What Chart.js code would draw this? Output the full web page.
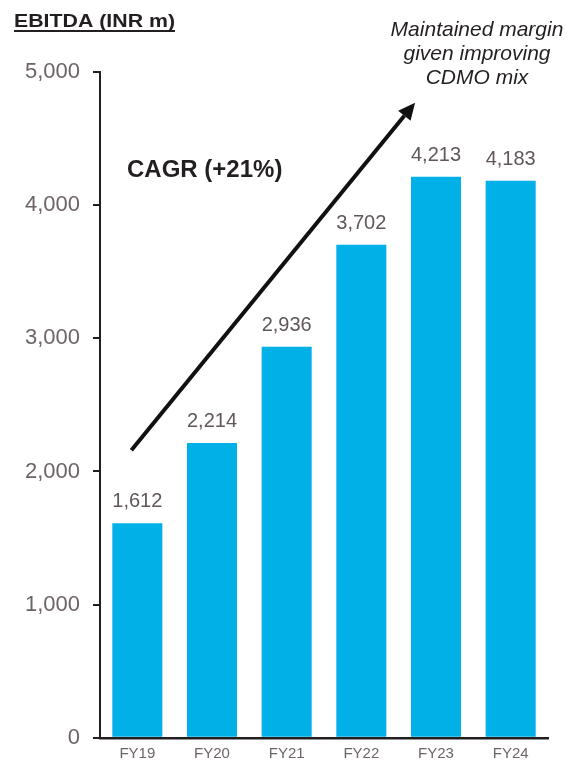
<!DOCTYPE html>
<html>
<head>
<meta charset="utf-8">
<script src="https://cdn.jsdelivr.net/npm/chart.js@4/dist/chart.umd.min.js"></script>
<style>
  body { margin: 0; background: #fff; }
  #wrap { width: 570px; height: 764px; }
</style>
</head>
<body>
<div id="wrap"><canvas id="barChart" width="570" height="764"></canvas></div>
<script>
// data
const years = ['FY19', 'FY20', 'FY21', 'FY22', 'FY23', 'FY24'];
const ebitda = [1612, 2214, 2936, 3702, 4213, 4183];
const yTicks = [0, 1000, 2000, 3000, 4000, 5000];
// arrow runs from [category index, value] to [category index, value]
const arrowFrom = [-0.08, 2160];
const arrowTo = [3.72, 4770];

const fmt = v => v.toLocaleString('en-US');
const FONT = '"Liberation Sans", Arial, sans-serif';

const extras = {
    id: 'extras',
    afterDatasetsDraw(chart) {
        const ctx = chart.ctx;
        const xs = chart.scales.x, ys = chart.scales.y;

        // value labels over bars
        ctx.save();
        ctx.font = '20px ' + FONT;
        ctx.fillStyle = '#5f5758';
        ctx.textAlign = 'center';
        ctx.textBaseline = 'alphabetic';
        chart.getDatasetMeta(0).data.forEach((bar, i) => {
            ctx.fillText(fmt(ebitda[i]), bar.x, bar.y - 16);
        });
        ctx.restore();

        // growth arrow
        const x1 = xs.getPixelForValue(arrowFrom[0]), y1 = ys.getPixelForValue(arrowFrom[1]);
        const x2 = xs.getPixelForValue(arrowTo[0]), y2 = ys.getPixelForValue(arrowTo[1]);
        const ang = Math.atan2(y2 - y1, x2 - x1);
        const head = 17, half = 8;
        const bx = x2 - head * Math.cos(ang), by = y2 - head * Math.sin(ang);
        ctx.save();
        ctx.strokeStyle = '#111';
        ctx.fillStyle = '#111';
        ctx.lineWidth = 4;
        ctx.beginPath();
        ctx.moveTo(x1, y1);
        ctx.lineTo(bx, by);
        ctx.stroke();
        ctx.beginPath();
        ctx.moveTo(x2, y2);
        ctx.lineTo(bx + half * Math.sin(ang), by - half * Math.cos(ang));
        ctx.lineTo(bx - half * Math.sin(ang), by + half * Math.cos(ang));
        ctx.closePath();
        ctx.fill();
        ctx.restore();

        // texts
        ctx.save();
        ctx.fillStyle = '#231f20';
        ctx.textBaseline = 'alphabetic';
        ctx.textAlign = 'left';
        // title is drawn a bit wider than tall, like the source
        const title = 'EBITDA (INR m)';
        ctx.font = 'bold 18px ' + FONT;
        const sx = 161 / ctx.measureText(title).width;
        ctx.save();
        ctx.translate(14, 27);
        ctx.scale(sx, 1);
        ctx.fillText(title, 0, 0);
        ctx.restore();
        ctx.fillRect(14, 30, 161, 2);

        ctx.font = 'bold 24px ' + FONT;
        ctx.fillText('CAGR (+21%)', 127, 177);

        ctx.font = 'italic 21px ' + FONT;
        ctx.textAlign = 'center';
        ['Maintained margin', 'given improving', 'CDMO mix'].forEach((t, i) => {
            ctx.fillText(t, 477, 36 + i * 24);
        });
        ctx.restore();
    }
};

new Chart(document.getElementById('barChart').getContext('2d'), {
    type: 'bar',
    data: {
        labels: years,
        datasets: [{
            label: 'EBITDA',
            data: ebitda,
            backgroundColor: '#00b0e6',
            categoryPercentage: 1,
            barPercentage: 0.67
        }]
    },
    options: {
        responsive: false,
        animation: false,
        layout: { padding: { top: 72, right: 22, bottom: 0, left: 0 } },
        plugins: { legend: { display: false }, tooltip: { enabled: false } },
        scales: {
            x: {
                afterFit: s => { s.height = 26; },
                grid: { drawOnChartArea: false, drawTicks: false },
                border: { color: '#231f20', width: 2.5 },
                ticks: { color: '#6d6466', font: { size: 15, family: FONT }, padding: 7 }
            },
            y: {
                min: 0,
                max: 5000,
                afterFit: s => { s.width = 100; },
                afterBuildTicks: s => { s.ticks = yTicks.map(v => ({ value: v })); },
                grid: { drawOnChartArea: false, tickLength: 7, color: '#231f20', lineWidth: 2 },
                border: { color: '#231f20', width: 2 },
                ticks: {
                    color: '#6d6466',
                    font: { size: 22, family: FONT },
                    padding: 13,
                    callback: v => fmt(v)
                }
            }
        }
    },
    plugins: [extras]
});
</script>
</body>
</html>
